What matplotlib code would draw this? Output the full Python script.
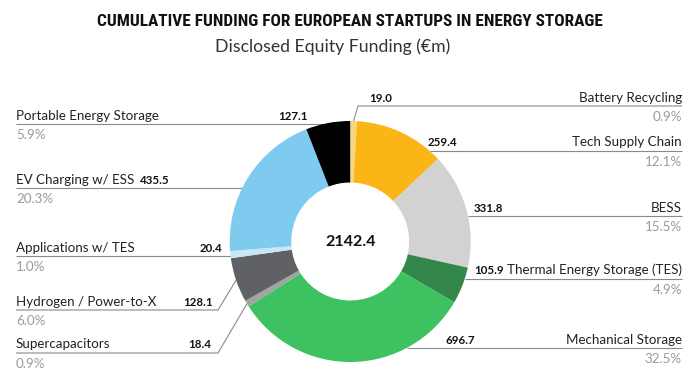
import numpy as np
import matplotlib.pyplot as plt
from matplotlib import font_manager

# ---------------- data ----------------
categories = ["Battery Recycling", "Tech Supply Chain", "BESS",
              "Thermal Energy Storage (TES)", "Mechanical Storage",
              "Supercapacitors", "Hydrogen / Power-to-X",
              "Applications w/ TES", "EV Charging w/ ESS",
              "Portable Energy Storage"]
values = [19.0, 259.4, 331.8, 105.9, 696.7, 18.4, 128.1, 20.4, 435.5, 127.1]
total_label = "2142.4"
colors = ["#f6d67e", "#fbb516", "#d2d2d2", "#34874a", "#3ec160",
          "#a3a3a3", "#5f6164", "#c8e7f6", "#7ecbef", "#000000"]

title = "CUMULATIVE FUNDING FOR EUROPEAN STARTUPS IN ENERGY STORAGE"
subtitle = "Disclosed Equity Funding (€m)"

# ---------------- layout (pixels, top-left origin) ----------------
W, H = 696, 388
cx, cy, R, RING = 350.2, 241.5, 120.5, 61.5
side = ["R", "R", "R", "R", "R", "L", "L", "L", "L", "L"]
line_y = [106, 151, 216, 279, 348, 353, 310, 256, 188, 124]
value_x = [369, 428, 474, 474, 445, 211, 213, 222, 170, 308]
left_edge, right_edge = 16, 682
elbow_x = {"L": 218, "R": 358}
title_width_px = 509

body_font = ["Lato", "DejaVu Sans"]
LEADER = "#8a8a8a"
PCT = "#9b9b9b"

# pick a condensed face for the title if one is installed
names = {f.name for f in font_manager.fontManager.ttflist}
title_family = "DejaVu Sans"
for cand in ["Liberation Sans Narrow", "Roboto Condensed",
             "Noto Sans Condensed", "DejaVu Sans Condensed",
             "Open Sans Condensed", "Roboto", "Lato"]:
    if cand in names:
        title_family = cand
        break


def Y(py):
    return H - py


fig = plt.figure(figsize=(W / 100, H / 100), dpi=100)
ax = fig.add_axes([0, 0, 1, 1])

wedges, _ = ax.pie(values, colors=colors, startangle=90, counterclock=False,
                   radius=R, center=(cx, Y(cy)),
                   wedgeprops=dict(width=RING, linewidth=0))
for w in wedges:
    w.set_zorder(3)

ax.set_xlim(0, W)
ax.set_ylim(0, H)
ax.set_aspect("equal")
ax.axis("off")

total = sum(values)
cum = np.cumsum([0] + values)
for i, cat in enumerate(categories):
    a0 = cum[i] / total * 360.0          # clockwise from top
    a1 = cum[i + 1] / total * 360.0
    amid = np.radians(90 - (a0 + a1) / 2)
    px, py = cx + R * np.cos(amid), Y(cy) + R * np.sin(amid)
    ly = Y(line_y[i])
    s = side[i]
    sgn = -1 if s == "L" else 1
    edge = left_edge if s == "L" else right_edge
    dy = ly - Y(cy)
    use_h = False
    if abs(dy) < R:
        xc = cx + sgn * np.sqrt(R ** 2 - dy ** 2)
        ang = np.degrees(np.arctan2(xc - cx, dy)) % 360
        if a0 <= ang <= a1:
            use_h = True
    if use_h:
        ax.plot([edge, xc], [ly, ly], color=LEADER, lw=0.8, zorder=1,
                solid_capstyle="butt")
    else:
        ex = elbow_x[s]
        ax.plot([edge, ex, px], [ly, ly, py], color=LEADER, lw=0.8, zorder=1,
                solid_capstyle="butt")

    ha = "left" if s == "L" else "right"
    ax.text(edge, ly + 4.5, cat, ha=ha, va="baseline", fontsize=9.6,
            family=body_font, color="#222222")
    pct = values[i] / total * 100
    ax.text(edge, ly - 5, f"{pct:.1f}%", ha=ha, va="top", fontsize=9.6,
            family=body_font, color=PCT)
    vha = "right" if s == "L" else "left"
    ax.text(value_x[i], ly + 4.5, f"{values[i]:.1f}", ha=vha, va="baseline",
            fontsize=8.3, fontweight="bold", family=body_font, color="#111111")

ax.text(cx, Y(cy), total_label, ha="center", va="center", fontsize=11.5,
        fontweight="bold", family=body_font, color="#111111")

t = ax.text(W / 2 + 2, Y(22), title, ha="center", va="center", fontsize=16,
            fontweight="bold", family=[title_family, "DejaVu Sans"],
            color="#111111")
fig.canvas.draw()
bb = t.get_window_extent(renderer=fig.canvas.get_renderer())
t.set_fontsize(min(17.5, 16 * title_width_px / bb.width))

ax.text(333, Y(47), subtitle, ha="center", va="center", fontsize=12.7,
        family=body_font, color="#333333")

fig.savefig("out.png", dpi=100)
